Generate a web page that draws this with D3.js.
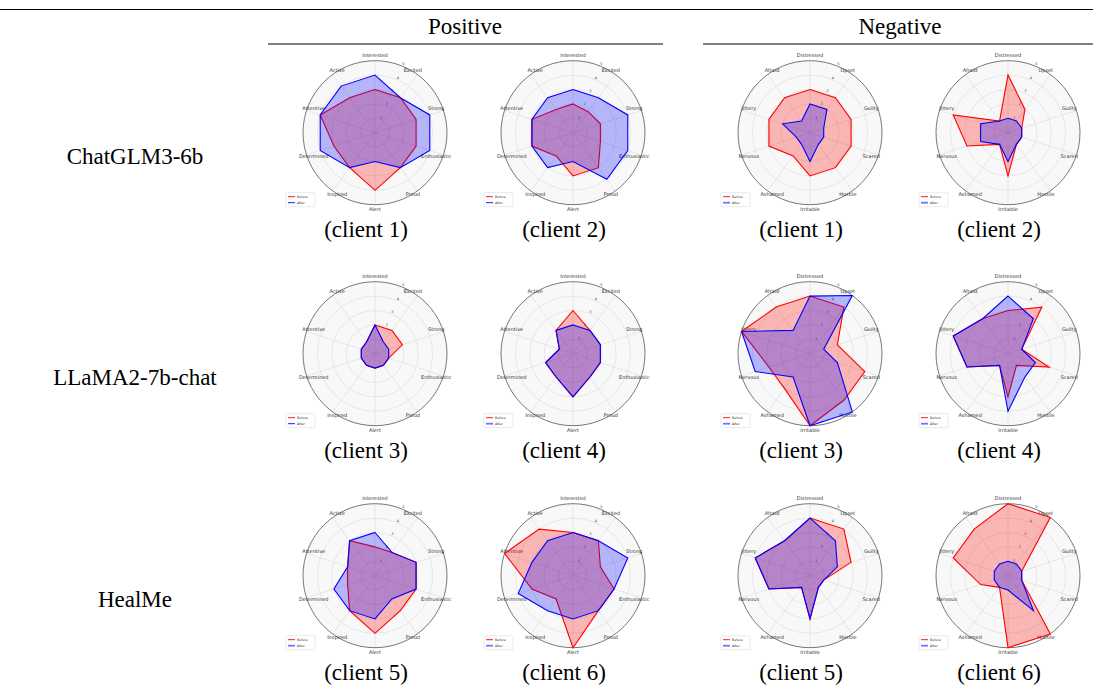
<!DOCTYPE html>
<html>
<head>
<meta charset="utf-8">
<script src="https://cdn.jsdelivr.net/npm/d3@7"></script>
<style>
  body { margin: 0; background: #fff; }
  text { font-family: "Liberation Serif", "Times New Roman", serif; }
  .small { font-family: "DejaVu Sans", sans-serif; }
</style>
</head>
<body>
<svg id="fig" width="1093" height="686"></svg>
<script>
// axis names of both radar groups
var positiveAxes = ["Interested", "Excited", "Strong", "Enthusiastic", "Proud", "Alert", "Inspired", "Determined", "Attentive", "Active"];
var negativeAxes = ["Distressed", "Upset", "Guilty", "Scared", "Hostile", "Irritable", "Ashamed", "Nervous", "Jittery", "Afraid"];
var models = ["ChatGLM3-6b", "LLaMA2-7b-chat", "HealMe"];
var groups = ["Positive", "Negative"];
var rTicks = [1, 2, 3, 4, 5];

// scores per client (client 1..6)
var posBefore = [
  [3, 3, 3, 3, 3, 4, 3, 3, 4, 3],
  [2, 1.8, 2, 2, 3, 3, 2, 3, 3, 2],
  [2, 2, 2, 1, 1, 1, 1, 1, 1, 1],
  [3, 2, 2, 2, 2, 3, 2, 2, 1, 2],
  [2, 2, 3, 3, 3, 4, 3, 2, 2, 3],
  [3, 3, 2, 3, 3, 5, 2, 3, 5, 4]
];
var posAfter = [
  [4, 3, 4, 4, 3, 2, 3, 4, 4, 4],
  [3, 3, 4, 4, 4, 2, 3, 3, 3, 3],
  [2, 1, 1, 1, 1, 1, 1, 1, 1, 1],
  [2, 2, 2, 2, 2, 3, 2, 2, 1, 2],
  [3, 2, 3, 3, 2, 3, 3, 3, 2, 3],
  [3, 3, 4, 3, 3, 3, 3, 4, 3, 3]
];
var negBefore = [
  [3, 3, 3, 3, 3, 3, 2, 3, 3, 3],
  [4, 2, 1, 1, 1, 3, 1, 3, 4, 1],
  [4, 4, 2, 4, 4, 5, 3, 3, 5, 4],
  [3, 4, 1, 3, 1, 3, 1, 3, 4, 3],
  [4, 4, 3, 1, 1, 3, 1, 3, 4, 3],
  [5, 5, 1, 1, 5, 5, 1, 2, 4, 4]
];
var negAfter = [
  [2, 2, 1, 1, 1, 2, 1, 1, 2, 1],
  [1, 1, 1, 1, 1, 2, 1, 2, 2, 1],
  [4, 5, 1, 2, 5, 5, 2, 4, 5, 2],
  [4, 3, 1, 2, 2, 4, 1, 3, 4, 3],
  [4, 3, 2, 1, 1, 3, 1, 3, 4, 3],
  [1, 1, 1, 1, 3, 1, 1, 1, 1, 1]
];

var svg = d3.select("#fig");
var colX = [375, 573, 810, 1008];
var rowY = [132.7, 353.7, 575.7];
var R = 72;

// header rules and titles
svg.append("line").attr("x1", 0).attr("x2", 1093).attr("y1", 9.5).attr("y2", 9.5)
  .attr("stroke", "#000").attr("stroke-width", 1);
var headerSpan = [[268, 663], [703, 1093]];
groups.forEach(function(g, i) {
  svg.append("line").attr("x1", headerSpan[i][0]).attr("x2", headerSpan[i][1])
    .attr("y1", 44).attr("y2", 44).attr("stroke", "#000").attr("stroke-width", 1);
  svg.append("text").attr("x", i == 0 ? 465 : 900).attr("y", 34)
    .attr("text-anchor", "middle").attr("font-size", 23).text(g);
});

models.forEach(function(m, i) {
  svg.append("text").attr("x", 135).attr("y", rowY[i] + 31)
    .attr("text-anchor", "middle").attr("font-size", 23).text(m);
});

var r = d3.scaleLinear().domain([0, 5]).range([0, R]);

function drawRadar(cx, cy, axes, before, after, client, thickAfter) {
  var n = axes.length;
  var ang = function(i) { return i * 2 * Math.PI / n; };
  var g = svg.append("g").attr("transform", "translate(" + cx + "," + cy + ")");

  g.append("circle").attr("r", R).attr("fill", "#f8f8f8").attr("stroke", "none");
  rTicks.slice(0, -1).forEach(function(t) {
    g.append("circle").attr("r", r(t)).attr("fill", "none")
      .attr("stroke", "#d4d4d4").attr("stroke-width", 0.5);
  });
  axes.forEach(function(a, i) {
    g.append("line").attr("x1", 0).attr("y1", 0)
      .attr("x2", Math.sin(ang(i)) * R).attr("y2", -Math.cos(ang(i)) * R)
      .attr("stroke", "#d4d4d4").attr("stroke-width", 0.5);
  });
  g.append("circle").attr("r", R).attr("fill", "none")
    .attr("stroke", "#555").attr("stroke-width", 0.8);

  // radial tick labels at 22.5 degrees
  var ra = 22.5 * Math.PI / 180;
  rTicks.forEach(function(t) {
    g.append("text").attr("class", "small")
      .attr("x", Math.sin(ra) * (r(t) + 2)).attr("y", -Math.cos(ra) * (r(t) + 2))
      .attr("text-anchor", "middle").attr("dominant-baseline", "middle")
      .attr("font-size", 3.5).attr("fill", "#444").text(t);
  });

  // axis names
  var Ry = R * 1.065;
  axes.forEach(function(a, i) {
    g.append("text").attr("class", "small")
      .attr("x", Math.sin(ang(i)) * Ry * 0.84).attr("y", -Math.cos(ang(i)) * Ry)
      .attr("text-anchor", "middle").attr("dominant-baseline", "middle")
      .attr("font-size", 5).attr("fill", "#333").text(a);
  });

  var line = d3.lineRadial()
    .angle(function(d, i) { return ang(i); })
    .radius(function(d) { return r(d); })
    .curve(d3.curveLinearClosed);

  g.append("path").attr("d", line(before)).attr("fill", "red").attr("fill-opacity", 0.27)
    .attr("stroke", "red").attr("stroke-width", 1.1);
  g.append("path").attr("d", line(after)).attr("fill", "blue").attr("fill-opacity", 0.27)
    .attr("stroke", "blue").attr("stroke-width", 1.1);

  // legend
  var lg = g.append("g").attr("transform", "translate(-89,60)");
  lg.append("rect").attr("width", 29).attr("height", 14).attr("rx", 1)
    .attr("fill", "#fff").attr("stroke", "#ccc").attr("stroke-width", 0.4);
  lg.append("line").attr("x1", 2).attr("x2", 9).attr("y1", 4).attr("y2", 4)
    .attr("stroke", "red").attr("stroke-width", 0.9);
  lg.append("line").attr("x1", 2).attr("x2", 9).attr("y1", 10).attr("y2", 10)
    .attr("stroke", "blue").attr("stroke-width", thickAfter ? 1.8 : 0.9)
    .attr("stroke-opacity", thickAfter ? 0.55 : 1);
  lg.append("text").attr("class", "small").attr("x", 11).attr("y", 4)
    .attr("dominant-baseline", "middle").attr("font-size", 3.3).attr("fill", "#333").text("Before");
  lg.append("text").attr("class", "small").attr("x", 11).attr("y", 10)
    .attr("dominant-baseline", "middle").attr("font-size", 3.3).attr("fill", "#333").text("After");

  svg.append("text").attr("x", cx - 9).attr("y", cy + 104)
    .attr("text-anchor", "middle").attr("font-size", 23).text("(client " + client + ")");
}

for (var row = 0; row < 3; row++) {
  for (var k = 0; k < 2; k++) {
    var c = row * 2 + k;
    drawRadar(colX[k], rowY[row], positiveAxes, posBefore[c], posAfter[c], c + 1, c >= 3);
    drawRadar(colX[k + 2], rowY[row], negativeAxes, negBefore[c], negAfter[c], c + 1, true);
  }
}
</script>
</body>
</html>
